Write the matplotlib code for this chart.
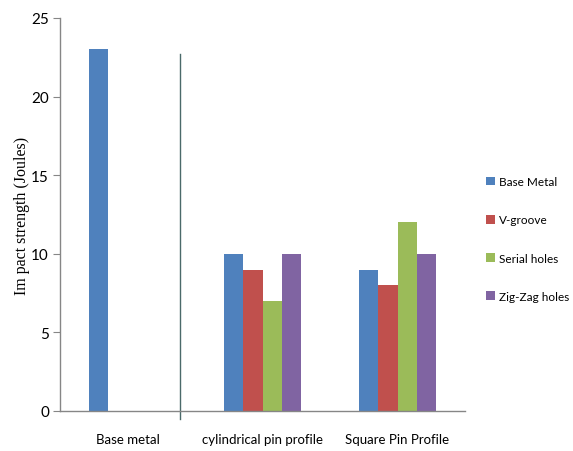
import matplotlib
matplotlib.use("Agg")
import matplotlib.pyplot as plt
import numpy as np
from matplotlib.patches import Patch

categories = ["Base metal", "cylindrical pin profile", "Square Pin Profile"]
series_names = ["Base Metal", "V-groove", "Serial holes", "Zig-Zag holes"]
base_metal = [23, 10, 9]
v_groove = [np.nan, 9, 8]
serial_holes = [np.nan, 7, 12]
zigzag_holes = [np.nan, 10, 10]
colors = ["#4F81BD", "#C0504D", "#9BBB59", "#8064A2"]
y_ticks = [0, 5, 10, 15, 20, 25]

series = [base_metal, v_groove, serial_holes, zigzag_holes]

fig = plt.figure(figsize=(5.73, 4.52), dpi=100)
ax = fig.add_axes([60/573, 40/452, 405/573, 393/452])

x = np.arange(len(categories))
w = 0.143
for i, (vals, c) in enumerate(zip(series, colors)):
    ax.bar(x + (i - 1.5) * w, vals, width=w, color=c, linewidth=0)

ax.set_xlim(-0.5, 2.5)
ax.set_ylim(0, 25)
ax.set_yticks(y_ticks)
ax.set_xticks(x)
ax.set_xticklabels(categories, fontfamily="Lato", fontsize=9.5)
for lab in ax.get_yticklabels():
    lab.set_fontfamily("Lato")
    lab.set_fontsize(11)

for s in ["top", "right"]:
    ax.spines[s].set_visible(False)
for s in ["left", "bottom"]:
    ax.spines[s].set_color("#868686")
    ax.spines[s].set_linewidth(1.0)
ax.tick_params(axis="y", length=5, color="#868686", pad=3)
ax.tick_params(axis="x", length=0, pad=16)

# separator line
ax.plot([0.389, 0.389], [-0.5, 22.7], color="#4a6a6a", linewidth=1.0, clip_on=False)

ax.set_ylabel("Im pact strength (Joules)", fontfamily="Liberation Serif", fontsize=11.5, labelpad=1)

handles = [Patch(facecolor=c, edgecolor="none") for c in colors]
fig.legend(handles, series_names, loc="upper left", bbox_to_anchor=(478/573, 1 - 169/452),
           frameon=False, prop={"family": "Lato", "size": 8.5}, labelspacing=2.3,
           handlelength=0.75, handleheight=0.75, handletextpad=0.3, borderpad=0.2)

fig.savefig("out.png", dpi=100, facecolor="white")
